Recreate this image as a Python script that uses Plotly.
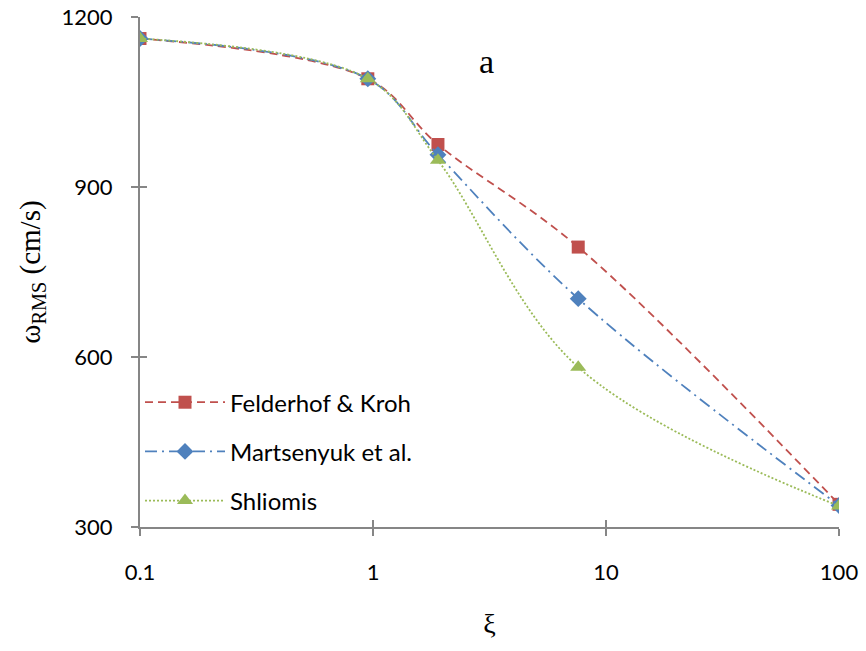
import plotly.graph_objects as go

# Dimensionless parameter xi and RMS velocity (cm/s) for each model
xi = [0.1, 0.95, 1.9, 7.6, 100]
felderhof = [1162, 1091, 975, 794, 340]
martsenyuk = [1162, 1091, 957, 703, 338]
shliomis = [1162, 1091, 947, 582, 337]

x_ticks = [0.1, 1, 10, 100]
x_tick_labels = ["0.1", "1", "10", "100"]
y_ticks = [300, 600, 900, 1200]

axis_grey = "#868686"
tick_font = dict(family="Lato, Open Sans, sans-serif", size=22, color="#000000")
legend_font = dict(family="Lato, Open Sans, sans-serif", size=24, color="#000000")
serif = "Liberation Serif, Times New Roman, serif"

fig = go.Figure()

series = [
    ("Felderhof & Kroh", felderhof, "#C0504D", "8px,5px", "square", 13),
    ("Martsenyuk et al.", martsenyuk, "#4F81BD", "12px,5px,2px,5px", "diamond", 13),
    ("Shliomis", shliomis, "#9BBB59", "2px,2px", "triangle-up", 14),
]
for name, ys, color, dash, symbol, msize in series:
    fig.add_trace(go.Scatter(
        x=xi, y=ys, name=name, legendgroup=name, mode="lines+markers",
        line=dict(color=color, dash=dash, width=1.8, shape="spline", smoothing=1),
        marker=dict(symbol=symbol, size=msize, color=color),
    ))

common_x = dict(type="log", range=[-1, 2], tickvals=x_ticks,
                showgrid=False, zeroline=False, automargin=False)
common_y = dict(range=[300, 1200], tickvals=y_ticks,
                showgrid=False, zeroline=False, automargin=False)

fig.update_layout(
    width=866, height=651,
    margin=dict(l=140, r=27, t=17, b=124),
    paper_bgcolor="white", plot_bgcolor="white",
    showlegend=True,
    legend=dict(x=0.0, y=0.288, xanchor="left", yanchor="top",
                bgcolor="rgba(0,0,0,0)", font=legend_font, itemwidth=80,
                traceorder="grouped", tracegroupgap=15),
    xaxis=dict(**common_x, ticktext=x_tick_labels, ticks="outside", ticklen=7,
               tickwidth=2, tickcolor=axis_grey, showline=True, linecolor=axis_grey,
               linewidth=2, tickfont=tick_font, ticklabelstandoff=18,
               title=dict(text="ξ", font=dict(family=serif, size=28, color="#000"),
                          standoff=29)),
    yaxis=dict(**common_y, ticks="outside", ticklen=7, tickwidth=2,
               tickcolor=axis_grey, showline=True, linecolor=axis_grey, linewidth=2,
               tickfont=tick_font, ticklabelstandoff=14,
               title=dict(text="ω<sub>RMS</sub> (cm/s)",
                          font=dict(family=serif, size=29, color="#000"), standoff=12)),
    # companion axes that add the inner half of each tick mark
    xaxis2=dict(**common_x, overlaying="x", anchor="y", side="bottom",
                ticks="inside", ticklen=7, tickwidth=2, tickcolor=axis_grey,
                showticklabels=False, showline=False),
    yaxis2=dict(**common_y, overlaying="y", anchor="x", side="left",
                ticks="inside", ticklen=7, tickwidth=2, tickcolor=axis_grey,
                showticklabels=False, showline=False),
    annotations=[dict(text="a", x=0.495, y=0.953, xref="paper", yref="paper",
                      showarrow=False,
                      font=dict(family=serif, size=34, color="#000"))],
)

# invisible trace to bring the companion axes into the layout
fig.add_trace(go.Scatter(x=[xi[0]], y=[felderhof[0]], xaxis="x2", yaxis="y2",
                         mode="markers", marker=dict(opacity=0), showlegend=False,
                         hoverinfo="skip"))

fig.write_html("out.html")
